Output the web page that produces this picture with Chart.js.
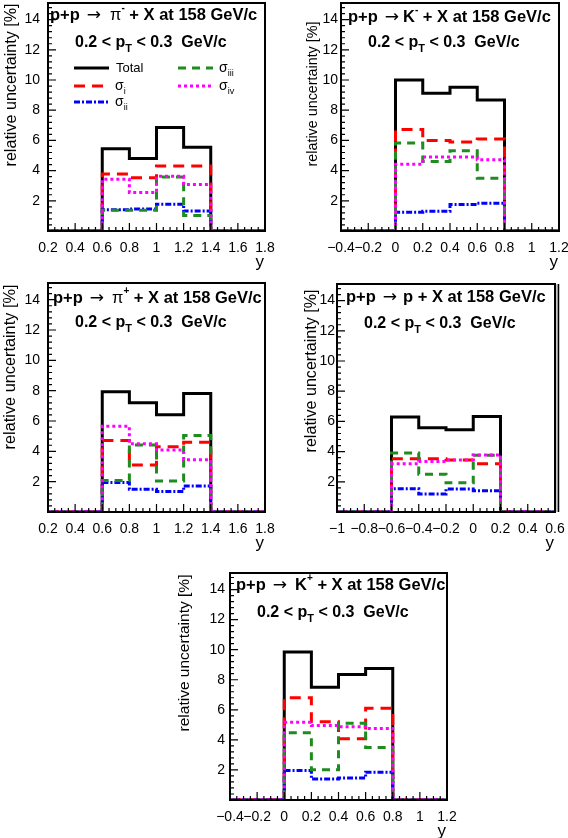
<!DOCTYPE html>
<html lang="en">
  <head>
    <meta charset="UTF-8" />
    <title>p+p at 158 GeV/c - relative uncertainties</title>
    <script src="https://cdn.jsdelivr.net/npm/chart.js"></script>
    <style>
      body { margin: 0; background: #fff; }
      #page { position: relative; width: 568px; height: 838px; overflow: hidden; background: #fff; }
      #page canvas { position: absolute; }
    </style>
  </head>
  <body>
    <div id="page"></div>

    <script>
      // bin edges in y (bin width 0.2) and per-bin relative uncertainty in %
      const piMinusEdges = [0.2, 0.4, 0.6, 0.8, 1.0, 1.2, 1.4, 1.6, 1.8];
      const piMinusTotal = [0, 0, 5.45, 4.8, 6.85, 5.55, 0, 0];
      const piMinusSigI = [0, 0, 3.78, 3.52, 4.3, 4.3, 0, 0];
      const piMinusSigII = [0, 0, 1.4, 1.45, 1.77, 1.33, 0, 0];
      const piMinusSigIII = [0, 0, 1.38, 1.38, 3.58, 1.02, 0, 0];
      const piMinusSigIV = [0, 0, 3.42, 2.55, 3.62, 3.08, 0, 0];

      const kMinusEdges = [-0.4, -0.2, 0, 0.2, 0.4, 0.6, 0.8, 1.0, 1.2];
      const kMinusTotal = [0, 0, 10.0, 9.12, 9.52, 8.68, 0, 0];
      const kMinusSigI = [0, 0, 6.72, 6.0, 5.9, 6.1, 0, 0];
      const kMinusSigII = [0, 0, 1.25, 1.3, 1.75, 1.83, 0, 0];
      const kMinusSigIII = [0, 0, 5.82, 4.6, 5.32, 3.5, 0, 0];
      const kMinusSigIV = [0, 0, 4.42, 4.9, 4.9, 4.72, 0, 0];

      const piPlusEdges = [0.2, 0.4, 0.6, 0.8, 1.0, 1.2, 1.4, 1.6, 1.8];
      const piPlusTotal = [0, 0, 7.93, 7.2, 6.42, 7.82, 0, 0];
      const piPlusSigI = [0, 0, 4.72, 3.1, 4.3, 4.6, 0, 0];
      const piPlusSigII = [0, 0, 1.95, 1.5, 1.35, 1.72, 0, 0];
      const piPlusSigIII = [0, 0, 2.07, 4.42, 2.05, 5.05, 0, 0];
      const piPlusSigIV = [0, 0, 5.65, 4.5, 4.08, 3.45, 0, 0];

      const protonEdges = [-1.0, -0.8, -0.6, -0.4, -0.2, 0, 0.2, 0.4, 0.6];
      const protonTotal = [0, 0, 6.29, 5.58, 5.45, 6.33, 0, 0];
      const protonSigI = [0, 0, 3.52, 3.52, 3.45, 3.2, 0, 0];
      const protonSigII = [0, 0, 1.54, 1.2, 1.52, 1.4, 0, 0];
      const protonSigIII = [0, 0, 3.9, 2.5, 1.93, 3.76, 0, 0];
      const protonSigIV = [0, 0, 3.2, 3.35, 3.45, 3.78, 0, 0];

      const kPlusEdges = [-0.4, -0.2, 0, 0.2, 0.4, 0.6, 0.8, 1.0, 1.2];
      const kPlusTotal = [0, 0, 9.85, 7.5, 8.35, 8.75, 0, 0];
      const kPlusSigI = [0, 0, 6.8, 5.2, 4.08, 6.1, 0, 0];
      const kPlusSigII = [0, 0, 1.96, 1.4, 1.47, 1.84, 0, 0];
      const kPlusSigIII = [0, 0, 4.47, 2.02, 5.1, 3.5, 0, 0];
      const kPlusSigIV = [0, 0, 5.18, 4.96, 4.88, 4.76, 0, 0];

      const seriesNames = ["Total", "σi", "σii", "σiii", "σiv"];
      const legendSubs = ["", "i", "ii", "iii", "iv"];
      const yTickValues = [2, 4, 6, 8, 10, 12, 14];

      const FONT = '"Liberation Sans", Arial, sans-serif';
      const lineStyles = [
        { color: "#000000", dash: [] },
        { color: "#ff0000", dash: [11, 7] },
        { color: "#0000ff", dash: [6, 2, 2, 2] },
        { color: "#1f8c1f", dash: [8, 6] },
        { color: "#ff00ff", dash: [3, 3] },
      ];

      // frame = [left, top, right, bottom] of the plot box on the page
      const panels = [
        {
          frame: [48, 3, 265, 230.5], xMin: 0.2, xMax: 1.8, edges: piMinusEdges,
          series: [piMinusTotal, piMinusSigI, piMinusSigII, piMinusSigIII, piMinusSigIV],
          particle: "π", charge: "-", symbolFont: true, gap: 9,
          titleDx: 2, titleDy: 12, yPad: 8, yTitle: [-36, 82, 163], legend: true,
        },
        {
          frame: [340.5, 3, 558, 230.7], xMin: -0.4, xMax: 1.2, edges: kMinusEdges,
          series: [kMinusTotal, kMinusSigI, kMinusSigII, kMinusSigIII, kMinusSigIV],
          particle: "K", charge: "-", symbolFont: false, gap: 4,
          titleDx: 7, titleDy: 14, yPad: 3, yTitle: [-28, 91, 145],
        },
        {
          frame: [48, 283, 265, 511.7], xMin: 0.2, xMax: 1.8, edges: piPlusEdges,
          series: [piPlusTotal, piPlusSigI, piPlusSigII, piPlusSigIII, piPlusSigIV],
          particle: "π", charge: "+", symbolFont: true, gap: 8,
          titleDx: 5, titleDy: 15, yPad: 8, yTitle: [-38, 84, 165],
        },
        {
          frame: [337, 284, 554.5, 511.5], xMin: -1.0, xMax: 0.6, edges: protonEdges,
          series: [protonTotal, protonSigI, protonSigII, protonSigIII, protonSigIV],
          particle: "p", charge: "", symbolFont: false, gap: 6,
          titleDx: 9, titleDy: 13, yPad: 2, yTitle: [-25, 87, 163], doubleRight: true,
        },
        {
          frame: [229.7, 573.3, 447, 800], xMin: -0.4, xMax: 1.2, edges: kPlusEdges,
          series: [kPlusTotal, kPlusSigI, kPlusSigII, kPlusSigIII, kPlusSigIV],
          particle: "K", charge: "+", symbolFont: false, gap: 8,
          titleDx: 6, titleDy: 12, yPad: 5, yTitle: [-45, 80, 157],
        },
      ];

      const PAD_L = 60, AXIS_W = 48, PAD_T = 6, PAD_R = 20, PAD_B = 50;

      function drawRich(ctx, x, y, parts) {
        ctx.textBaseline = "middle";
        ctx.textAlign = "left";
        for (const p of parts) {
          if (p.gap) { x += p.gap; continue; }
          ctx.font = p.f;
          ctx.fillText(p.t, x, y + (p.dy || 0));
          x += ctx.measureText(p.t).width;
        }
        return x;
      }

      function strokeSample(ctx, x0, x1, y, style) {
        ctx.save();
        ctx.strokeStyle = style.color;
        ctx.lineWidth = 3;
        ctx.setLineDash(style.dash);
        ctx.beginPath();
        ctx.moveTo(x0, y);
        ctx.lineTo(x1, y);
        ctx.stroke();
        ctx.restore();
      }

      const decoPlugin = {
        id: "deco",
        afterDraw(chart) {
          const cfg = chart.options.plugins.deco;
          const ctx = chart.ctx;
          const a = chart.chartArea;
          const xs = chart.scales.x;
          const ys = chart.scales.y;
          ctx.save();
          ctx.fillStyle = "#000";
          ctx.strokeStyle = "#000";

          // inner tick marks (ROOT style)
          ctx.lineWidth = 1.2;
          ctx.beginPath();
          const nx = Math.round((xs.max - xs.min) / 0.05);
          for (let k = 0; k <= nx; k++) {
            const v = xs.min + k * 0.05;
            if (v > xs.max + 1e-9) break;
            const px = xs.getPixelForValue(v);
            const len = k % 4 === 0 ? 8 : 4;
            ctx.moveTo(px, a.bottom);
            ctx.lineTo(px, a.bottom - len);
          }
          for (let k = 0; k * 0.4 <= ys.max + 1e-9; k++) {
            const py = ys.getPixelForValue(k * 0.4);
            const len = k % 5 === 0 ? 8 : 4;
            ctx.moveTo(a.left, py);
            ctx.lineTo(a.left + len, py);
          }
          ctx.stroke();

          // frame
          ctx.lineWidth = 2;
          ctx.strokeRect(a.left, a.top, a.right - a.left, a.bottom - a.top);
          if (cfg.doubleRight) {
            ctx.fillStyle = "#c8c8c8";
            ctx.fillRect(a.right + 1, a.top, 2, a.bottom - a.top);
            ctx.fillStyle = "#000";
            ctx.lineWidth = 1.5;
            ctx.beginPath();
            ctx.moveTo(a.right + 3.5, a.top);
            ctx.lineTo(a.right + 3.5, a.bottom);
            ctx.stroke();
          }

          // reaction title
          const bold = "bold 16.5px " + FONT;
          const parts = [
            { t: "p+p", f: bold },
            { gap: 7 },
            { t: "→", f: '17px "DejaVu Sans", sans-serif', dy: 1 },
            { gap: cfg.gap },
            { t: cfg.particle, f: (cfg.symbolFont ? "16.5px " : "bold 16.5px ") + FONT },
          ];
          if (cfg.charge) parts.push({ t: cfg.charge, f: "bold 10px " + FONT, dy: -7 });
          parts.push({ t: " + X at 158 GeV/c", f: bold });
          drawRich(ctx, a.left + cfg.titleDx, a.top + cfg.titleDy, parts);

          // pT range
          drawRich(ctx, a.left + 27, a.top + 40, [
            { t: "0.2 < p", f: "bold 16px " + FONT },
            { t: "T", f: "bold 11px " + FONT, dy: 6 },
            { t: " < 0.3  GeV/c", f: "bold 16px " + FONT },
          ]);

          // y axis title, aligned like ROOT (towards the top)
          const [tdx, tcy, tlen] = cfg.yTitle;
          ctx.font = "14px " + FONT;
          const w14 = ctx.measureText("relative uncertainty [%]").width;
          const fs = (14 * tlen) / w14;
          ctx.save();
          ctx.translate(a.left + tdx, a.top + tcy);
          ctx.rotate(-Math.PI / 2);
          ctx.font = fs.toFixed(2) + "px " + FONT;
          ctx.textAlign = "center";
          ctx.textBaseline = "middle";
          ctx.fillText("relative uncertainty [%]", 0, 0);
          ctx.restore();

          // x axis title
          ctx.font = "17px " + FONT;
          ctx.textAlign = "right";
          ctx.textBaseline = "middle";
          ctx.fillText("y", a.right - 1, a.bottom + 31);

          // legend (first panel only)
          if (cfg.legend) {
            const rows = [a.top + 65, a.top + 83, a.top + 99];
            const slots = [
              [0, 0], [0, 1], [0, 2], [1, 0], [1, 1],
            ];
            const cols = [a.left + 26, a.left + 130];
            slots.forEach(([c, r], i) => {
              const ds = chart.data.datasets[i];
              strokeSample(ctx, cols[c], cols[c] + 35, rows[r], { color: ds.borderColor, dash: ds.borderDash });
              ctx.fillStyle = "#000";
              if (legendSubs[i]) {
                drawRich(ctx, cols[c] + 41, rows[r], [
                  { t: seriesNames[i].charAt(0), f: "14px " + FONT },
                  { t: legendSubs[i], f: "9px " + FONT, dy: 6 },
                ]);
              } else {
                drawRich(ctx, cols[c] + 42, rows[r], [{ t: seriesNames[i], f: "13px " + FONT }]);
              }
            });
          }
          ctx.restore();
        },
      };

      const page = document.getElementById("page");

      panels.forEach((p) => {
        const [L, T, R, B] = p.frame;
        const canvas = document.createElement("canvas");
        const w = Math.round(R - L) + PAD_L + PAD_R;
        const h = Math.round(B - T) + PAD_T + PAD_B;
        canvas.width = w;
        canvas.height = h;
        canvas.style.left = L - PAD_L + "px";
        canvas.style.top = T - PAD_T + "px";
        page.appendChild(canvas);

        const datasets = p.series.map((vals, i) => ({
          label: seriesNames[i],
          data: p.edges.map((x, k) => ({ x: x, y: vals[Math.min(k, vals.length - 1)] })),
          borderColor: lineStyles[i].color,
          borderDash: lineStyles[i].dash,
          borderWidth: 3,
          pointRadius: 0,
          stepped: "before",
          fill: false,
          order: 5 - i,
        }));

        new Chart(canvas.getContext("2d"), {
          type: "line",
          data: { datasets: datasets },
          options: {
            responsive: false,
            animation: false,
            devicePixelRatio: 1,
            layout: { padding: { left: PAD_L - AXIS_W, top: PAD_T, right: PAD_R, bottom: 0 } },
            plugins: {
              legend: { display: false },
              tooltip: { enabled: false },
              deco: p,
            },
            scales: {
              x: {
                type: "linear",
                min: p.xMin,
                max: p.xMax,
                grid: { display: false, drawTicks: false },
                border: { display: false },
                ticks: {
                  stepSize: 0.2,
                  autoSkip: false,
                  maxRotation: 0,
                  padding: 9,
                  color: "#000",
                  font: { family: FONT, size: 14 },
                  callback: (v) => String(Math.round(v * 10) / 10).replace("-", "\u2212"),
                },
                afterBuildTicks: (s) => {
                  s.ticks = s.ticks.filter((t) => Math.abs(t.value * 5 - Math.round(t.value * 5)) < 1e-6);
                },
                afterFit: (s) => {
                  s.height = PAD_B;
                  s.paddingLeft = 0;
                  s.paddingRight = 0;
                },
              },
              y: {
                min: 0,
                max: 15.1,
                grid: { display: false, drawTicks: false },
                border: { display: false },
                ticks: {
                  padding: p.yPad,
                  color: "#000",
                  font: { family: FONT, size: 14 },
                },
                afterBuildTicks: (s) => {
                  s.ticks = yTickValues.map((v) => ({ value: v }));
                },
                afterFit: (s) => {
                  s.width = AXIS_W;
                  s.paddingTop = 0;
                  s.paddingBottom = 0;
                },
              },
            },
          },
          plugins: [decoPlugin],
        });
      });
    </script>
  </body>
</html>
